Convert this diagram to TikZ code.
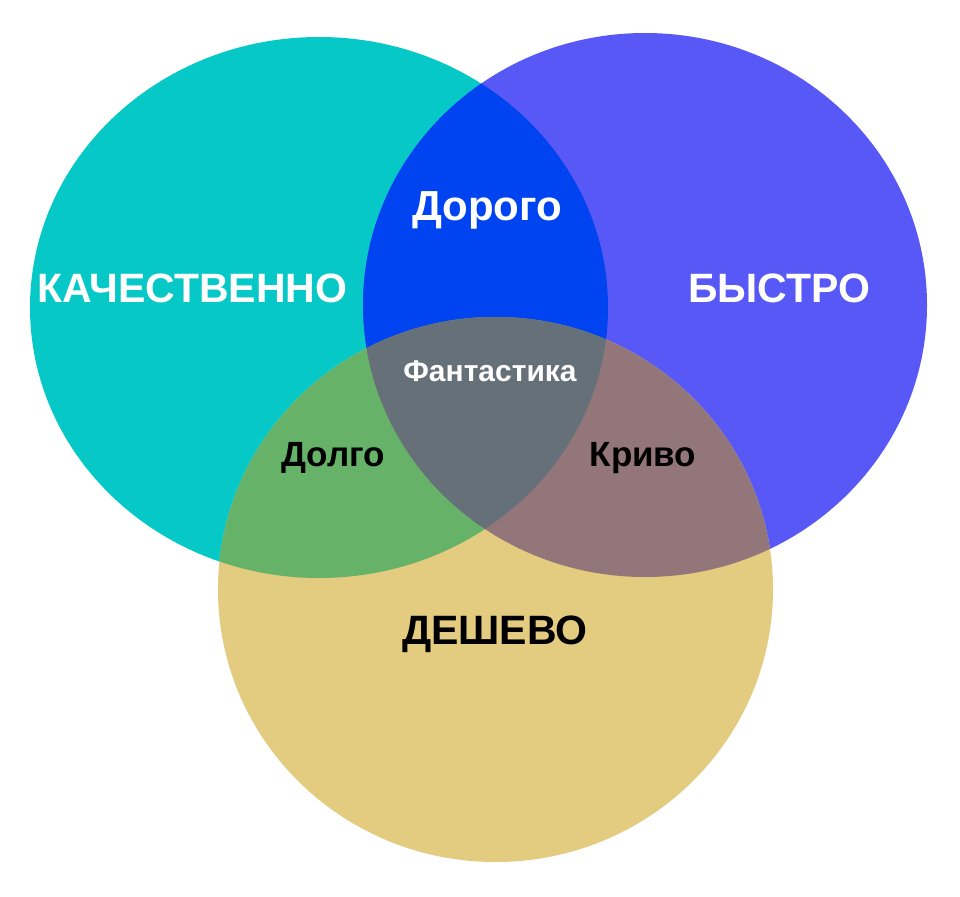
\documentclass[tikz,border=0pt]{standalone}
\usepackage{fontspec}
\setmainfont{Liberation Sans}
\usepackage{graphicx}
\definecolor{cCyan}{HTML}{06C9C7}
\definecolor{cBlue}{HTML}{5858F6}
\definecolor{cYellow}{HTML}{E3CB80}
\definecolor{cDark}{HTML}{0043F0}
\definecolor{cGreen}{HTML}{65B268}
\definecolor{cBrown}{HTML}{93767A}
\definecolor{cGrey}{HTML}{667078}
\tikzset{
  big/.style={anchor=base, inner sep=0pt, font=\bfseries\fontsize{41}{48}\selectfont},
  mid/.style={anchor=base, inner sep=0pt, font=\bfseries\fontsize{35}{42}\selectfont},
  small/.style={anchor=base, inner sep=0pt, font=\bfseries\fontsize{30}{36}\selectfont},
}
\newcommand{\cyanE}{(319,307.5) ellipse [x radius=289, y radius=270.5]}
\newcommand{\blueE}{(645,305) ellipse [x radius=282, y radius=272]}
\newcommand{\yellowE}{(495.5,589.5) ellipse [x radius=277.5, y radius=272.5]}
\begin{document}
\begin{tikzpicture}[x=1pt,y=-1pt]
\fill[white] (0,0) rectangle (960,896);
\useasboundingbox (0,0) rectangle (960,896);
\fill[cCyan] \cyanE;
\fill[cBlue] \blueE;
\fill[cYellow] \yellowE;
\begin{scope}
  \clip \cyanE;
  \fill[cDark] \blueE;
  \fill[cGreen] \yellowE;
\end{scope}
\begin{scope}
  \clip \blueE;
  \fill[cBrown] \yellowE;
\end{scope}
\begin{scope}
  \clip \cyanE;
  \clip \blueE;
  \fill[cGrey] \yellowE;
\end{scope}
\node[big, white] (kach) at (192.5,302) {КАЧЕСТВЕННО};
\node[big, white] (bystro) at (779,302) {БЫСТРО};
\node[big, white] (dorogo) at (487,220) {\fontsize{42}{48}\selectfont Дорого};
\node[small, white] (fant) at (490,381) {Фантастика};
\node[mid, black] (dolgo) at (333,466) {Долго};
\node[mid, black] (krivo) at (643,466) {Криво};
\node[big, black] (deshevo) at (495,644) {ДЕШЕВО};
\end{tikzpicture}
\end{document}
